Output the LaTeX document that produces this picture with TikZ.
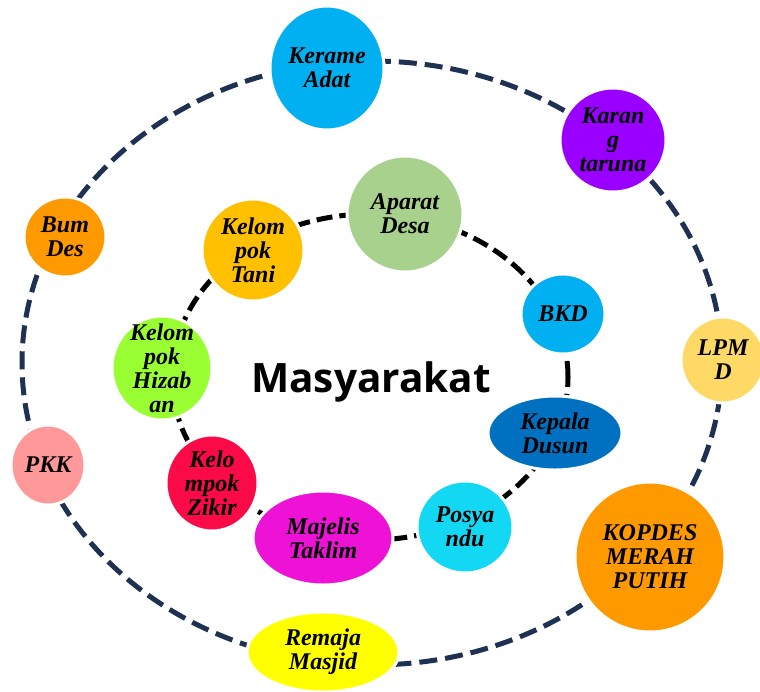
\documentclass[tikz,border=0pt]{standalone}
\usepackage{fontspec}
\setmainfont{Liberation Serif}
\newfontfamily\titlefont{Open Sans}
\usetikzlibrary{shapes.geometric}
\definecolor{navyline}{HTML}{1F3152}
\definecolor{cKerame}{HTML}{00B0F0}
\definecolor{cKarang}{HTML}{9900FF}
\definecolor{cBum}{HTML}{FF9900}
\definecolor{cTani}{HTML}{FFC000}
\definecolor{cAparat}{HTML}{A9D18E}
\definecolor{cBKD}{HTML}{00B0F0}
\definecolor{cLPMD}{HTML}{FFD966}
\definecolor{cHizab}{HTML}{99FF33}
\definecolor{cPKK}{HTML}{FF9999}
\definecolor{cZikir}{HTML}{FA0A46}
\definecolor{cMajelis}{HTML}{EE11D6}
\definecolor{cPosy}{HTML}{12D8F4}
\definecolor{cKadus}{HTML}{0070C0}
\definecolor{cKopdes}{HTML}{FF9900}
\definecolor{cRemaja}{HTML}{FFFF00}
\tikzset{
  outerring/.style={draw=navyline, line width=5pt, dash pattern=on 18pt off 8pt},
  innerring/.style={draw=black, line width=5pt, dash pattern=on 16pt off 7pt},
  bub/.style 2 args={ellipse, draw=white, line width=3pt, inner sep=0pt,
     minimum width=#1, minimum height=#2},
  txt/.style={font=\bfseries\itshape\fontsize{24}{24}\selectfont, align=center,
     inner sep=0pt, text=black},
}
\begin{document}
\begin{tikzpicture}[x=1pt,y=-1pt]
\useasboundingbox (0,0) rectangle (760,691);
% rings
\draw[outerring] (372,363) ellipse [x radius=350pt, y radius=302pt];
\draw[innerring] (370,377) ellipse [x radius=198pt, y radius=163pt];
% outer bubbles
\node[bub={114pt}{124pt}, fill=cKerame] (kerame) at (327,68) {};
\node[txt] (tkerame) at (kerame) {Kerame\\Adat};
\node[bub={106pt}{104pt}, fill=cKarang] (karang) at (613,140) {};
\node[txt] (tkarang) at (karang) {Karan\\g\\taruna};
\node[bub={82pt}{80pt}, fill=cBum] (bum) at (65,237) {};
\node[txt] (tbum) at (bum) {Bum\\Des};
\node[bub={84pt}{86pt}, fill=cLPMD] (lpmd) at (723,360) {};
\node[txt] (tlpmd) at (lpmd) {LPM\\D};
\node[bub={74pt}{80pt}, fill=cPKK] (pkk) at (48,465) {};
\node[txt] (tpkk) at (pkk) {PKK};
\node[bub={150pt}{150pt}, fill=cKopdes] (kopdes) at (650,557) {};
\node[txt] (tkopdes) at (kopdes) {KOPDES\\MERAH\\PUTIH};
\node[bub={152pt}{80pt}, fill=cRemaja] (remaja) at (323,652) {};
\node[txt] (tremaja) at (remaja) {Remaja\\Masjid};
% inner bubbles
\node[bub={102pt}{102pt}, fill=cTani] (tani) at (253,250) {};
\node[txt] (ttani) at (tani) {Kelom\\pok\\Tani};
\node[bub={116pt}{116pt}, fill=cAparat] (aparat) at (405,214) {};
\node[txt] (taparat) at (aparat) {Aparat\\Desa};
\node[bub={84pt}{80pt}, fill=cBKD] (bkd) at (563,314) {};
\node[txt] (tbkd) at (bkd) {BKD};
\node[bub={100pt}{104pt}, fill=cHizab] (hizab) at (162,368) {};
\node[txt] (thizab) at (hizab) {Kelom\\pok\\Hizab\\an};
\node[bub={92pt}{96pt}, fill=cZikir] (zikir) at (212,483) {};
\node[txt] (tzikir) at (zikir) {Kelo\\mpok\\Zikir};
\node[bub={140pt}{94pt}, fill=cMajelis] (majelis) at (323,538) {};
\node[txt] (tmajelis) at (majelis) {Majelis\\Taklim};
\node[bub={96pt}{92pt}, fill=cPosy] (posy) at (465,527) {};
\node[txt] (tposy) at (posy) {Posya\\ndu};
\node[bub={134pt}{74pt}, fill=cKadus] (kadus) at (555,433) {};
\node[txt] (tkadus) at (kadus) {Kepala\\Dusun};
% title
\node[font=\titlefont\bfseries\fontsize{40.5}{40}\selectfont, anchor=base, inner sep=0pt] (title) at (371,392) {Masyarakat};
\end{tikzpicture}
\end{document}
